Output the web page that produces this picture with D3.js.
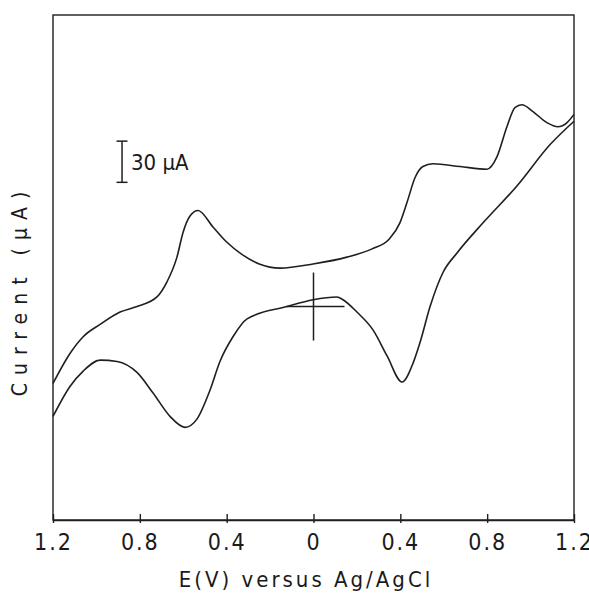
<!DOCTYPE html>
<html>
<head>
<meta charset="utf-8">
<script src="https://cdn.jsdelivr.net/npm/d3@7"></script>
<style>
  body { margin: 0; background: #fff; }
  text { font-family: "Liberation Sans Narrow", "DejaVu Sans Condensed", "DejaVu Sans", sans-serif; fill: #1a1a1a; }
</style>
</head>
<body>
<svg id="chart"></svg>
<script>
// forward scan (upper curve), potential in V, current in uA
var fwdE = [-1.200, -1.121, -1.061, -0.983, -0.891, -0.813, -0.721, -0.675, -0.629, -0.601, -0.569, -0.532,
            -0.463, -0.400, -0.330, -0.250, -0.154, -0.002, 0.154, 0.270, 0.348, 0.398, 0.431, 0.468, 0.504,
            0.550, 0.675, 0.799, 0.845, 0.891, 0.928, 0.960, 1.011, 1.075, 1.126, 1.168, 1.200];
var fwdI = [-56, -34, -22, -13, -4, 0, 7, 18, 36, 54, 66, 70,
            58, 47, 38, 31, 28, 31, 36, 42, 49, 61, 76, 94, 102,
            104, 102, 100, 109, 131, 145, 147, 142, 134, 131, 134, 140];

// reverse scan (lower curve)
var revE = [1.200, 1.090, 0.938, 0.781, 0.661, 0.597, 0.537, 0.491, 0.459, 0.408, 0.339, 0.274,
            0.200, 0.136, 0.108, -0.002, -0.122, -0.306, -0.371, -0.431, -0.477, -0.537, -0.592,
            -0.661, -0.739, -0.813, -0.905, -0.983, -1.061, -1.121, -1.200];
var revI = [135, 118, 88, 61, 39, 25, 0, -26, -41, -55, -36, -17,
            -4, 5, 7, 5, 0, -9, -22, -40, -61, -82, -88,
            -80, -63, -48, -40, -39, -47, -58, -80];

var xTicks = [-1.2, -0.8, -0.4, 0, 0.4, 0.8, 1.2];
var scaleBarUA = 30;

var width = 589, height = 595;
var padL = 53, padR = 574, padT = 15, padB = 520;

var svg = d3.select('#chart')
    .attr('width', width)
    .attr('height', height);

var x = d3.scaleLinear().domain([-1.2, 1.2]).range([padL, padR]);
var y = d3.scaleLinear().domain([-155.5, 212.4]).range([padB, padT]);

var ink = '#1f1f1f';

// frame
svg.append('rect')
    .attr('x', padL).attr('y', padT)
    .attr('width', padR - padL).attr('height', padB - padT)
    .attr('fill', 'none').attr('stroke', ink).attr('stroke-width', 1.4);

// x axis
var xAxis = d3.axisBottom(x)
    .tickValues(xTicks)
    .tickSize(0)
    .tickPadding(14)
    .tickFormat(function(d) { return d === 0 ? '0' : Math.abs(d).toFixed(1); });

var gx = svg.append('g')
    .attr('transform', 'translate(0,' + padB + ')')
    .call(xAxis);
gx.select('.domain').attr('stroke', ink).attr('stroke-width', 1.4);
gx.selectAll('.tick text')
    .attr('font-size', 23)
    .attr('letter-spacing', 2)
    .style('font-family', null)
    .attr('fill', ink);
gx.selectAll('.tick').append('line')
    .attr('y1', -6).attr('y2', 3)
    .attr('stroke', ink).attr('stroke-width', 1.4);

// axis titles
svg.append('text')
    .attr('x', 306).attr('y', 587)
    .attr('text-anchor', 'middle')
    .attr('font-size', 22)
    .attr('letter-spacing', 3)
    .text('E(V) versus Ag/AgCl');

svg.append('text')
    .attr('transform', 'translate(27,290) rotate(-90)')
    .attr('text-anchor', 'middle')
    .attr('font-size', 21)
    .attr('letter-spacing', 8)
    .text('Current (\u03bcA)');

// curves
var line = d3.line()
    .x(function(d) { return x(d[0]); })
    .y(function(d) { return y(d[1]); })
    .curve(d3.curveMonotoneX);

var fwd = fwdE.map(function(e, i) { return [e, fwdI[i]]; });
var rev = revE.map(function(e, i) { return [e, revI[i]]; }).reverse();

svg.selectAll('path.cv')
    .data([fwd, rev])
    .enter()
    .append('path')
    .attr('class', 'cv')
    .attr('d', line)
    .attr('fill', 'none')
    .attr('stroke', ink)
    .attr('stroke-width', 1.6);

// origin cross
var ox = x(0), oy = y(0);
svg.append('line')
    .attr('x1', ox).attr('x2', ox).attr('y1', oy - 34).attr('y2', oy + 34)
    .attr('stroke', ink).attr('stroke-width', 1.5);
svg.append('line')
    .attr('x1', ox - 27).attr('x2', ox + 31).attr('y1', oy).attr('y2', oy)
    .attr('stroke', ink).attr('stroke-width', 1.5);

// 30 uA scale bar
var bx = x(-0.882), b0 = y(90.5), b1 = y(90.5 + scaleBarUA);
var sb = svg.append('g').attr('stroke', ink).attr('stroke-width', 1.5);
sb.append('line').attr('x1', bx).attr('x2', bx).attr('y1', b0).attr('y2', b1);
sb.append('line').attr('x1', bx - 5.5).attr('x2', bx + 5.5).attr('y1', b0).attr('y2', b0);
sb.append('line').attr('x1', bx - 5.5).attr('x2', bx + 5.5).attr('y1', b1).attr('y2', b1);
svg.append('text')
    .attr('x', bx + 9).attr('y', (b0 + b1) / 2 + 8)
    .attr('font-size', 22)
    .text(scaleBarUA + ' \u03bcA');
</script>
</body>
</html>
